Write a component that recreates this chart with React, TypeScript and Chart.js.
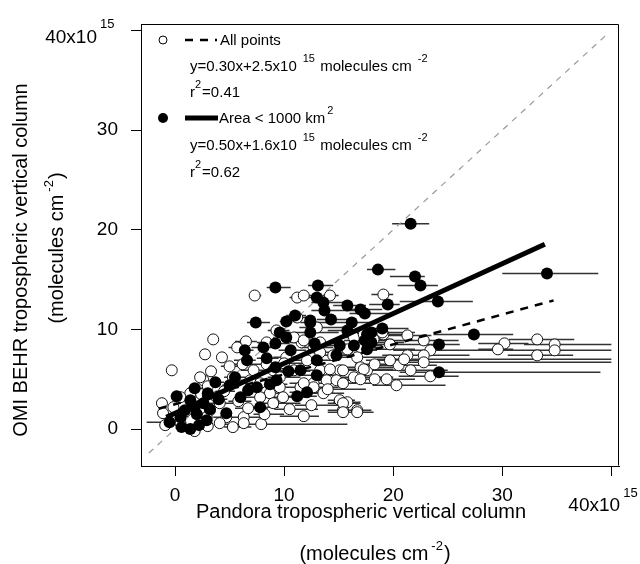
import React, { useEffect, useRef } from "react";
import { Chart, registerables } from "chart.js";

Chart.register(...registerables);

const FONT = '"Liberation Sans", Arial, Helvetica, sans-serif';

const xTicks = [0, 10, 20, 30, 40];
const yTicks = [0, 10, 20, 30, 40];

// Filled circles: Area < 1000 km2 (units of 1e15 molecules cm-2)
const smallX = [21.6, 34.1, 18.6, 22.0, 22.5, 9.2, 13.1, 13.0, 13.6, 13.7, 15.8, 17.4, 19.5, 24.1, 7.4, 10.2, 12.4, 12.4, 9.6, 10.2,
  15.8, 17.4, 18.0, 8.1, 9.2, 10.6, 6.4, 6.6, 8.4, 9.2, 11.5, 3.7, 1.8, 0.15, 1.4, 2.6, 1.8, 0.5, -0.5, 0.6,
  1.4, 2.9, 6.0, 6.7, 7.5, 7.8, 4.7, 11.2, 12.1, 9.3, 13.0, 14.8, 16.4, 17.6, 27.4, 24.2, 24.2, 18.0, 17.6, 15.1,
  12.4, 13.0, 2.0, 3.2, 2.2, 4.0, 5.5, 8.7, 10.4, 12.8, 16.2, 11.0, 14.3, 19.0, 17.0, 3.0, 5.0, 0.9];
const smallY = [20.6, 15.6, 16.0, 15.3, 14.4, 14.2, 14.4, 13.2, 12.7, 11.9, 12.4, 11.6, 12.5, 12.8, 10.7, 10.8, 10.7, 9.7, 9.7, 9.2,
  9.9, 8.9, 9.7, 8.2, 8.6, 7.9, 7.9, 6.9, 7.1, 6.2, 5.9, 4.7, 4.1, 3.3, 2.9, 2.6, 2.2, 1.2, 0.7, 0.2,
  0.0, 0.9, 3.2, 3.9, 4.2, 2.2, 1.6, 3.3, 3.7, 4.9, 5.4, 7.4, 8.4, 9.5, 9.5, 8.5, 5.7, 8.7, 8.0, 8.4,
  10.9, 6.9, 1.5, 2.0, 0.4, 3.0, 5.2, 4.5, 5.8, 8.6, 10.7, 11.4, 11.0, 10.1, 12.0, 3.6, 4.4, 1.9];
const smallErrMinus = [1.7, 4.1, 1.0, 2.3, 2.1, 0.8, 0.9, 1.0, 1.1, 1.2, 1.3, 1.4, 1.7, 3.5, 0.8, 0.6, 0.9, 1.4, 0.8, 1.2,
  1.8, 1.9, 1.5, 1.1, 1.2, 1.1, 0.9, 1.2, 0.9, 1.2, 1.5, 0.7, 0.6, 0, 0, 0, 0, 0, 2.1, 0,
  0, 0, 0, 0, 0, 1.0, 0, 1.2, 1.6, 0, 1.5, 1.8, 1.9, 1.6, 3.7, 3.6, 3.6, 2.0, 2.1, 1.6,
  0, 1.5, 0, 0, 0, 0.6, 0.8, 0.9, 1.0, 1.2, 1.5, 0.8, 1.3, 1.6, 1.4, 0, 0.7, 0];
const smallErrPlus = [1.7, 4.7, 1.6, 0.9, 1.6, 1.4, 1.4, 1.2, 2.4, 2.8, 1.7, 2.6, 1.1, 3.2, 1.3, 0.8, 1.6, 2.6, 1.0, 1.3,
  2.7, 3.1, 3.0, 0.9, 1.3, 1.4, 0.8, 0.8, 1.1, 1.3, 2.0, 0.8, 0.7, 0, 0, 0, 0, 0, 1.0, 0,
  0, 0, 0, 0, 0, 1.7, 0, 1.8, 2.4, 0, 2.0, 2.2, 2.6, 2.4, 3.6, 1.9, 14.8, 3.0, 4.4, 2.9,
  0, 2.0, 0, 0, 0, 0.8, 1.2, 1.6, 2.0, 2.2, 2.5, 1.0, 1.8, 2.4, 2.0, 0, 0.9, 0];

// Open circles: remaining points
const otherX = [7.3, 11.2, 11.8, 14.2, 19.1, 11.2, 3.5, 2.75, -0.3, 6.5, 8.4, 11.6, 13.3, 17.0, 16.7, 14.5, 12.1, 10.9, 8.4, 10.2,
  13.3, 15.1, 16.4, 13.9, 12.7, 11.5, 9.6, 8.7, 7.8, 6.9, 5.3, 2.6, 2.3, -1.2, -1.1, -0.9, -0.15, 4.1, 4.7, 5.3,
  6.3, 6.7, 7.9, 9.0, 9.9, 11.8, 13.6, 15.1, 15.8, 16.7, 15.4, 14.8, 17.0, 17.6, 15.8, 16.4, 17.6, 12.7, 10.9, 9.3,
  1.4, 0.5, 2.0, 3.8, 3.2, 2.9, 4.1, 6.3, 7.2, 9.0, 9.6, 7.8, 19.1, 21.3, 22.8, 23.4, 19.7, 18.2, 21.3, 22.8,
  22.8, 20.5, 19.7, 18.3, 17.3, 17.0, 18.3, 19.4, 21.6, 23.4, 15.4, 14.2, 15.4, 12.7, 11.8, 11.8, 13.3, 15.8, 17.3, 19.0,
  30.2, 29.6, 33.2, 33.2, 34.8, 34.8, 15.4, 15.4, 16.7, 0.5, 1.0, 3.0, 4.5, 5.8, 2.4, 3.3, 5.0, 6.2, 4.3, 5.7,
  3.0, 1.8, 8.2, 10.5, 12.5, 14.0, 20.3, 21.0, 13.0, 10.0];
const otherY = [13.4, 13.2, 13.4, 13.4, 13.5, 11.2, 9.0, 7.5, 5.9, 8.8, 8.7, 8.7, 8.7, 8.2, 7.2, 7.4, 6.9, 5.9, 6.5, 7.2,
  5.9, 5.9, 5.2, 4.9, 4.6, 4.2, 4.2, 3.6, 3.2, 4.9, 5.2, 4.9, 5.2, 2.6, 1.6, 0.4, 2.2, 2.6, 1.2, 0.2,
  1.2, 2.1, 0.5, 2.6, 3.2, 1.3, 3.6, 2.9, 2.7, 1.9, 1.9, 4.9, 6.2, 5.9, 7.9, 9.2, 8.9, 8.2, 9.2, 9.9,
  3.6, 3.2, 2.7, 3.2, 1.9, 1.2, 0.6, 0.6, 5.9, 5.9, 5.2, 4.6, 9.5, 9.4, 8.9, 7.9, 8.5, 9.0, 7.4, 7.4,
  6.7, 6.4, 6.9, 6.5, 6.0, 5.0, 5.0, 5.0, 5.9, 5.3, 5.9, 6.0, 4.6, 4.2, 4.6, 8.9, 7.7, 8.0, 9.5, 9.7,
  8.6, 8.0, 9.0, 7.4, 8.5, 7.9, 2.6, 1.7, 1.7, 0.6, 1.8, 4.3, 3.8, 2.8, 3.5, 5.8, 6.3, 6.5, 7.2, 8.2,
  0.3, -0.2, 1.5, 2.0, 2.4, 4.0, 4.4, 7.0, 10.2, 6.6];
const otherErrMinus = [0.5, 0.7, 0.8, 0.7, 1.1, 0.7, 0, 0, 0, 1.0, 0.9, 1.1, 1.3, 1.5, 1.7, 1.5, 1.1, 1.4, 1.4, 1.2,
  1.3, 1.6, 1.9, 1.4, 1.2, 1.5, 1.1, 1.2, 1.3, 0.9, 0.8, 0, 0, 0, 0, 0, 0, 1.1, 1.2, 0.8,
  1.3, 1.2, 3.8, 1.5, 1.4, 2.2, 1.6, 1.1, 1.3, 1.2, 1.4, 1.3, 1.5, 1.6, 1.3, 1.4, 1.6, 1.2, 0.9, 0.8,
  0, 0, 0, 0, 0, 0, 0, 0, 1.2, 1.0, 1.1, 1.3, 1.6, 1.8, 2.8, 3.4, 1.7, 1.7, 2.3, 2.8,
  3.3, 2.0, 2.2, 1.8, 1.8, 2.0, 1.8, 1.9, 2.6, 2.9, 1.4, 1.2, 1.4, 1.2, 1.3, 1.2, 1.3, 1.3, 1.6, 1.7,
  2.4, 1.8, 2.6, 2.7, 2.8, 4.3, 1.4, 1.4, 1.2, 0, 0, 0, 0.8, 0.9, 0, 0, 0.8, 0.9, 0, 0.8,
  0, 0, 1.0, 1.4, 1.5, 1.6, 2.2, 2.5, 1.6, 1.2];
const otherErrPlus = [0.6, 0.8, 0.8, 0.8, 0.9, 1.0, 0, 0, 0, 1.0, 1.1, 1.4, 1.7, 2.0, 2.8, 2.5, 1.9, 2.1, 1.6, 1.8,
  2.7, 2.9, 3.6, 3.1, 2.3, 2.0, 1.4, 1.3, 1.2, 1.1, 1.2, 0, 0, 0, 0, 0, 0, 1.4, 1.8, 1.7,
  1.7, 1.8, 7.9, 2.5, 2.1, 1.4, 1.9, 1.4, 1.2, 1.3, 0.6, 2.7, 3.0, 3.4, 2.7, 2.6, 2.9, 1.8, 1.6, 1.2,
  0, 0, 0, 0, 0, 0, 0, 0, 1.3, 2.0, 1.9, 1.2, 1.9, 2.2, 3.2, 16.6, 3.3, 1.8, 3.7, 4.2,
  17.2, 3.5, 2.8, 2.7, 2.7, 2.0, 2.7, 2.6, 3.4, 2.6, 2.4, 1.8, 2.6, 2.3, 1.7, 1.4, 1.7, 2.7, 2.5, 3.0,
  2.2, 1.4, 3.4, 3.3, 5.2, 4.2, 1.6, 1.4, 1.5, 0, 0, 0, 1.0, 1.2, 0, 0, 1.0, 1.3, 0, 1.0,
  0, 0, 1.8, 2.6, 2.8, 3.5, 4.5, 19.0, 2.5, 2.2];

// Regression lines and 1:1 line
const fitAllSlope = 0.3;
const fitAllIntercept = 2.5;
const fitAllRange = [-1.5, 34.7];
const fitSmallSlope = 0.5;
const fitSmallIntercept = 1.6;
const fitSmallRange = [-0.8, 33.9];
const oneToOneRange = [-2.4, 39.5];

type Part = { t: string; sup?: boolean };

function drawRich(ctx: CanvasRenderingContext2D, parts: Part[], x: number, y: number, size: number, supSize: number, rise: number, supGap: number) {
  let cx = x;
  for (const p of parts) {
    if (p.sup) {
      ctx.font = `${supSize}px ${FONT}`;
      ctx.fillText(p.t, cx + supGap, y - rise);
      cx += supGap + ctx.measureText(p.t).width + 1;
    } else {
      ctx.font = `${size}px ${FONT}`;
      ctx.fillText(p.t, cx, y);
      cx += ctx.measureText(p.t).width;
    }
  }
  return cx - x;
}

function measureRich(ctx: CanvasRenderingContext2D, parts: Part[], size: number, supSize: number, supGap: number) {
  let w = 0;
  for (const p of parts) {
    ctx.font = `${p.sup ? supSize : size}px ${FONT}`;
    w += ctx.measureText(p.t).width + (p.sup ? supGap + 1 : 0);
  }
  return w;
}

const decorPlugin = {
  id: "decor",
  afterDraw(chart: any) {
    const ctx: CanvasRenderingContext2D = chart.ctx;
    const ca = chart.chartArea;
    ctx.save();
    ctx.strokeStyle = "#000";
    ctx.lineWidth = 1;
    ctx.beginPath();
    ctx.moveTo(Math.round(ca.left) + 0.5, Math.round(ca.top) + 0.5);
    ctx.lineTo(Math.round(ca.right) - 0.5, Math.round(ca.top) + 0.5);
    ctx.lineTo(Math.round(ca.right) - 0.5, Math.round(ca.bottom) - 0.5);
    ctx.stroke();

    ctx.fillStyle = "#000";
    ctx.textBaseline = "alphabetic";
    ctx.textAlign = "left";

    const ys = chart.scales.y;
    const xs = chart.scales.x;
    const y40 = ys.getPixelForValue(40);
    ctx.font = `19px ${FONT}`;
    ctx.textAlign = "right";
    ctx.fillText("40x10", 97, y40 + 12.5);
    ctx.textAlign = "left";
    ctx.font = `13px ${FONT}`;
    ctx.fillText("15", 100, y40 - 2);

    const x40 = xs.getPixelForValue(40);
    ctx.font = `19px ${FONT}`;
    ctx.fillText("40x10", x40 - 43, 511);
    ctx.font = `13px ${FONT}`;
    ctx.fillText("15", x40 + 12, 497);

    ctx.font = `20px ${FONT}`;
    ctx.textAlign = "center";
    ctx.fillText("Pandora tropospheric vertical column", 361, 518);
    ctx.textAlign = "left";
    const xt2: Part[] = [{ t: "(molecules cm" }, { t: "-2", sup: true }, { t: ")" }];
    const w2 = measureRich(ctx, xt2, 20, 13, 3);
    drawRich(ctx, xt2, 375 - w2 / 2, 560, 20, 13, 10, 3);

    ctx.save();
    ctx.translate(26.5, 260);
    ctx.rotate(-Math.PI / 2);
    ctx.font = `20px ${FONT}`;
    ctx.textAlign = "center";
    ctx.fillText("OMI BEHR tropospheric vertical column", 0, 0);
    ctx.restore();
    ctx.save();
    ctx.translate(63, 248);
    ctx.rotate(-Math.PI / 2);
    ctx.textAlign = "left";
    const yw2 = measureRich(ctx, xt2, 20, 13, 3);
    drawRich(ctx, xt2, -yw2 / 2, 0, 20, 13, 10, 3);
    ctx.restore();

    // Legend
    ctx.lineWidth = 1;
    ctx.strokeStyle = "#000";
    ctx.fillStyle = "#fff";
    ctx.beginPath();
    ctx.arc(163, 40, 4, 0, Math.PI * 2);
    ctx.fill();
    ctx.stroke();
    ctx.fillStyle = "#000";
    ctx.beginPath();
    ctx.arc(163, 118, 5, 0, Math.PI * 2);
    ctx.fill();

    ctx.setLineDash([8, 7]);
    ctx.lineWidth = 2.5;
    ctx.beginPath();
    ctx.moveTo(185, 40);
    ctx.lineTo(217, 40);
    ctx.stroke();
    ctx.setLineDash([]);
    ctx.lineWidth = 5;
    ctx.beginPath();
    ctx.moveTo(185, 118);
    ctx.lineTo(218, 118);
    ctx.stroke();

    ctx.textAlign = "left";
    ctx.font = `15px ${FONT}`;
    ctx.fillText("All points", 220, 45);
    drawRich(ctx, [{ t: "y=0.30x+2.5x10" }, { t: "15", sup: true }, { t: " molecules cm" }, { t: "-2", sup: true }], 190, 71, 15, 11, 9, 6);
    drawRich(ctx, [{ t: "r" }, { t: "2", sup: true }, { t: "=0.41" }], 190, 97, 15, 11, 9, 0);
    drawRich(ctx, [{ t: "Area < 1000 km" }, { t: "2", sup: true }], 219, 123, 15, 11, 9, 2);
    drawRich(ctx, [{ t: "y=0.50x+1.6x10" }, { t: "15", sup: true }, { t: " molecules cm" }, { t: "-2", sup: true }], 190, 150, 15, 11, 9, 6);
    drawRich(ctx, [{ t: "r" }, { t: "2", sup: true }, { t: "=0.62" }], 190, 177, 15, 11, 9, 0);

    ctx.restore();
  },
};

function buildBars(xs: number[], ys: number[], em: number[], ep: number[]) {
  const out: { x: number; y: number | null }[] = [];
  xs.forEach((x, i) => {
    if (em[i] + ep[i] > 0) {
      out.push({ x: x - em[i], y: ys[i] }, { x: x + ep[i], y: ys[i] }, { x: x + ep[i], y: null });
    }
  });
  return out;
}

export default function App() {
  const ref = useRef<HTMLCanvasElement>(null);
  useEffect(() => {
    if (!ref.current) return;
    const bars = [
      ...buildBars(otherX, otherY, otherErrMinus, otherErrPlus),
      ...buildBars(smallX, smallY, smallErrMinus, smallErrPlus),
    ];
    const openPts = otherX.map((x, i) => ({ x, y: otherY[i] }));
    const filledPts = smallX.map((x, i) => ({ x, y: smallY[i] }));
    const line = (slope: number, icpt: number, r: number[]) => r.map((x) => ({ x, y: slope * x + icpt }));

    const tickCommon = {
      font: { family: FONT, size: 19 },
      color: "#000",
      autoSkip: false,
      maxRotation: 0,
      callback: (v: any) => (Number(v) === 40 ? "" : String(v)),
    };

    const chart = new Chart(ref.current, {
      type: "scatter",
      data: {
        datasets: [
          {
            label: "errbars",
            data: bars as any,
            showLine: true,
            spanGaps: false,
            pointRadius: 0,
            borderColor: "#333",
            borderWidth: 1.5,
            order: 6,
          } as any,
          {
            label: "1:1",
            data: oneToOneRange.map((v) => ({ x: v, y: v })),
            showLine: true,
            pointRadius: 0,
            borderColor: "#9a9a9a",
            borderWidth: 1.2,
            borderDash: [6, 6],
            order: 5,
          },
          {
            label: "All points",
            data: openPts,
            pointRadius: 5.5,
            pointBackgroundColor: "#fff",
            pointBorderColor: "#111",
            pointBorderWidth: 1,
            order: 4,
          },
          {
            label: "Area < 1000 km2",
            data: filledPts,
            pointRadius: 6,
            pointBackgroundColor: "#000",
            pointBorderColor: "#000",
            pointBorderWidth: 0,
            order: 3,
          },
          {
            label: "fit all",
            data: line(fitAllSlope, fitAllIntercept, fitAllRange),
            showLine: true,
            pointRadius: 0,
            borderColor: "#000",
            borderWidth: 2.5,
            borderDash: [8, 7],
            order: 2,
          },
          {
            label: "fit small",
            data: line(fitSmallSlope, fitSmallIntercept, fitSmallRange),
            showLine: true,
            pointRadius: 0,
            borderColor: "#000",
            borderWidth: 5,
            order: 1,
          },
        ],
      },
      options: {
        animation: false,
        responsive: false,
        devicePixelRatio: 1,
        layout: { padding: { top: 21, right: 21, left: 0, bottom: 0 } },
        plugins: { legend: { display: false }, tooltip: { enabled: false } },
        scales: {
          x: {
            type: "linear",
            min: -3.12,
            max: 40.7,
            afterBuildTicks: (s: any) => {
              s.ticks = xTicks.map((v) => ({ value: v }));
            },
            afterFit: (s: any) => {
              s.height = 98;
            },
            grid: { drawOnChartArea: false, drawTicks: true, tickLength: 10, color: "#000", lineWidth: 1 },
            border: { display: true, color: "#000", width: 1 },
            ticks: { ...tickCommon, padding: 8 },
          },
          y: {
            type: "linear",
            min: -3.7,
            max: 40.6,
            afterBuildTicks: (s: any) => {
              s.ticks = yTicks.map((v) => ({ value: v }));
            },
            afterFit: (s: any) => {
              s.width = 141;
            },
            grid: { drawOnChartArea: false, drawTicks: true, tickLength: 10, color: "#000", lineWidth: 1 },
            border: { display: true, color: "#000", width: 1 },
            ticks: { ...tickCommon, padding: 13 },
          },
        },
      },
      plugins: [decorPlugin],
    });
    return () => chart.destroy();
  }, []);

  return (
    <div style={{ position: "absolute", left: 0, top: 0, width: 640, height: 564, background: "#fff" }}>
      <canvas ref={ref} width={640} height={564} style={{ display: "block" }} />
    </div>
  );
}
